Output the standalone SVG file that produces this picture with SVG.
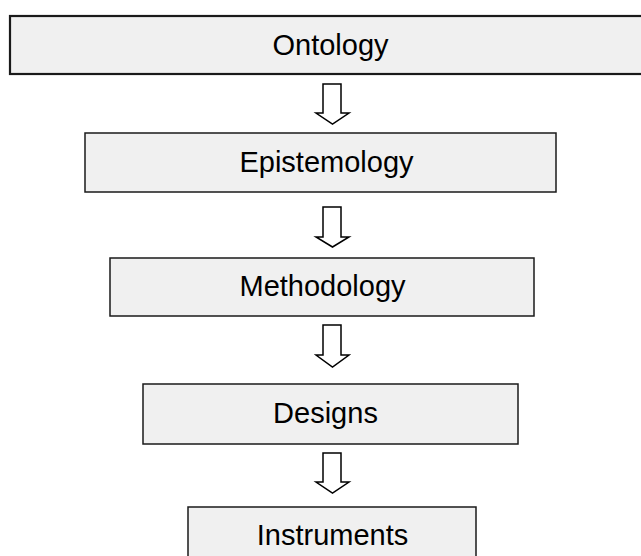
<svg xmlns="http://www.w3.org/2000/svg" width="641" height="556" viewBox="0 0 641 556">
<style>
.box{fill:#f0f0f0;stroke:#1a1a1a;stroke-width:1.5}
.top{stroke-width:2.2}
.lbl{font-family:"Liberation Sans",Arial,sans-serif;font-size:29px;fill:#000;text-anchor:middle}
.arr{fill:#fff;stroke:#000;stroke-width:1.5;stroke-linejoin:miter}
</style>
<rect width="641" height="556" fill="#fff"/>
<g id="ontology">
<rect class="box top" x="10" y="16" width="645" height="58"/>
<text class="lbl" x="330.5" y="55">Ontology</text>
</g>
<g id="epistemology">
<rect class="box" x="85" y="133" width="471" height="59"/>
<text class="lbl" x="326.5" y="172">Epistemology</text>
</g>
<g id="methodology">
<rect class="box" x="110" y="258" width="424" height="58"/>
<text class="lbl" x="322.5" y="296">Methodology</text>
</g>
<g id="designs">
<rect class="box" x="143" y="384" width="375" height="60"/>
<text class="lbl" x="325.5" y="423">Designs</text>
</g>
<g id="instruments">
<rect class="box" x="188" y="507" width="288" height="60"/>
<text class="lbl" x="332.5" y="545">Instruments</text>
</g>
<g id="connectors">
<polygon class="arr" points="323,84 341,84 341,113 349,113 332.5,124 316,113 323,113"/>
<polygon class="arr" points="323,207 341,207 341,237 349,237 332.5,247 316,237 323,237"/>
<polygon class="arr" points="323,325 341,325 341,355 349,355 332.5,367 316,355 323,355"/>
<polygon class="arr" points="323,453 341,453 341,482 349,482 332.5,493 316,482 323,482"/>
</g>
</svg>
